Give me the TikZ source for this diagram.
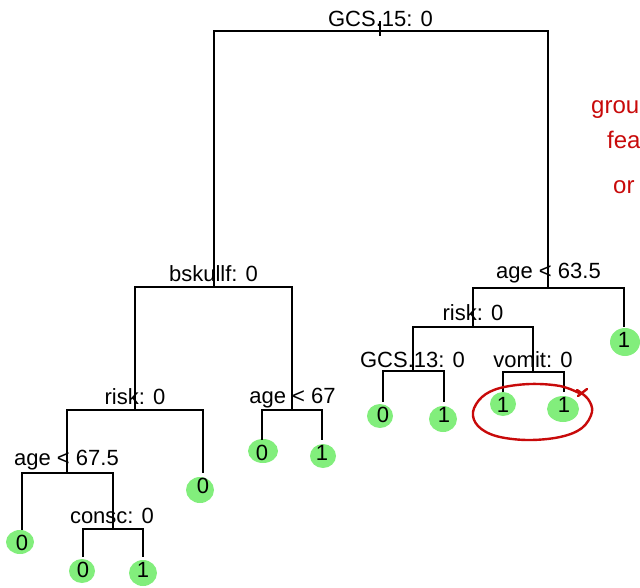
\documentclass[tikz,border=0pt]{standalone}
\usepackage{fontspec}
\setmainfont{Liberation Sans}
\definecolor{leafgreen}{RGB}{130,238,124}
\definecolor{inkred}{RGB}{200,10,10}
\begin{document}
\begin{tikzpicture}[x=1pt,y=-1pt,
  split/.style={font=\fontsize{22}{26}\selectfont, anchor=base, inner sep=0pt},
  leaf/.style={font=\fontsize{22}{26}\selectfont, inner sep=0pt, text height=16pt, text depth=0pt, outer sep=4.5pt},
  edge/.style={line width=1.3pt, black},
  blob/.style={fill=leafgreen, draw=none},
  ink/.style={draw=inkred, line width=2.4pt, line cap=round, line join=round},
  note/.style={text=inkred, font=\fontsize{24}{28}\selectfont, anchor=base west, inner sep=0pt}]
\useasboundingbox (0,0) rectangle (640,587);
\clip (0,0) rectangle (640,587);

% highlighted leaves
\fill[blob] (20,542) ellipse [x radius=14, y radius=12];
\fill[blob] (82,571) ellipse [x radius=13, y radius=12];
\fill[blob] (143,573) ellipse [x radius=14, y radius=13];
\fill[blob] (200,490) ellipse [x radius=14, y radius=13];
\fill[blob] (263,451) ellipse [x radius=15, y radius=12];
\fill[blob] (323,456) ellipse [x radius=13, y radius=12];
\fill[blob] (380,416) ellipse [x radius=13, y radius=12];
\fill[blob] (443,419) ellipse [x radius=14, y radius=13];
\fill[blob] (503,404) ellipse [x radius=13, y radius=12];
\fill[blob] (563,409) ellipse [x radius=16, y radius=13];
\fill[blob] (625,342) ellipse [x radius=15, y radius=14];

% split points
\coordinate (r) at (380,31);
\coordinate (rt) at (380,21);
\coordinate (rb) at (380,36);
\coordinate (b) at (214,287);
\coordinate (a1) at (548,288);
\coordinate (k1) at (135,410);
\coordinate (a2) at (292,410);
\coordinate (k2) at (473,327);
\coordinate (g) at (413,371);
\coordinate (v) at (533,372);
\coordinate (a3) at (67,473);
\coordinate (c) at (113,529);

% split labels
\node[split] (lr)  at (380.5,26)  {GCS.15: 0};
\node[split] (lb)  at (213.5,281.5) {bskullf: 0};
\node[split] (la1) at (548.5,278) {age < 63.5};
\node[split] (lk1) at (135,404) {risk: 0};
\node[split] (la2) at (292.5,403) {age < 67};
\node[split] (lk2) at (473,320) {risk: 0};
\node[split] (lg)  at (412.5,367) {GCS.13: 0};
\node[split] (lv)  at (533,367) {vomit: 0};
\node[split] (la3) at (66.5,465) {age < 67.5};
\node[split] (lc)  at (112,523) {consc: 0};

% leaves
\node[leaf] (L1)  at (22,542.5)  {0};
\node[leaf] (L2)  at (83,569.5)  {0};
\node[leaf] (L3)  at (143,569.5) {1};
\node[leaf] (L4)  at (203,485.5) {0};
\node[leaf] (L5)  at (262,452.5) {0};
\node[leaf] (L6)  at (322,452.5) {1};
\node[leaf] (L7)  at (383,414.5) {0};
\node[leaf] (L8)  at (444,414.5) {1};
\node[leaf] (L9)  at (503,404.5) {1};
\node[leaf] (L10) at (564,404.5) {1};
\node[leaf] (L11) at (624,339.5) {1};

% branches
\draw[edge] (rt) -- (rb);
\draw[edge] (b) |- (r) -| (a1);
\draw[edge] (k1) |- (b) -| (a2);
\draw[edge] (k2) |- (a1) -| (L11.north);
\draw[edge] (a3) |- (k1) -| (L4.north);
\draw[edge] (L5.north) |- (a2) -| (L6.north);
\draw[edge] (g) |- (k2) -| (v);
\draw[edge] (L7.north) |- (g) -| (L8.north);
\draw[edge] (L9.north) |- (v) -| (L10.north);
\draw[edge] (L1.north) |- (a3) -| (c);
\draw[edge] (L2.north) |- (c) -| (L3.north);

% red ink annotations
\draw[ink] plot[smooth, tension=0.6] coordinates {(579,393) (560,386) (530,384) (500,388) (482,397) (473,412) (478,426) (496,436) (527,440) (560,437) (582,428) (592,412) (588,399) (577,390)};
\draw[ink] (578,396) -- (587,389);
\node[note] (n1) at (591,113) {grou};
\node[note] (n2) at (607,148) {fea};
\node[note] (n3) at (613,193) {or};
\end{tikzpicture}
\end{document}
